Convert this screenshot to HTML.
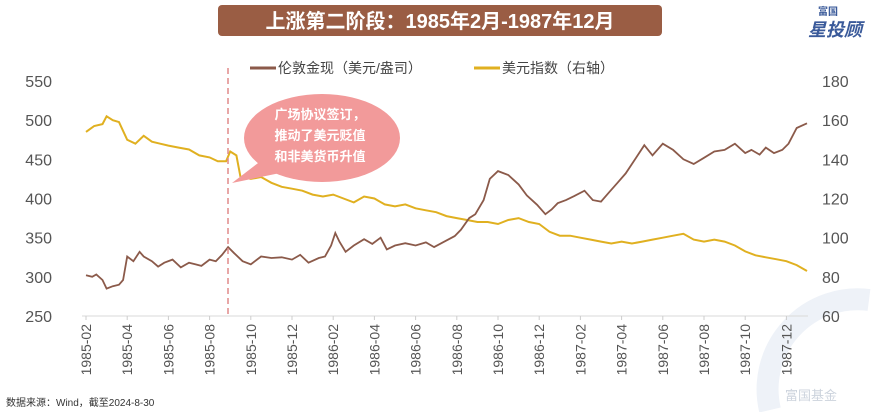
<!DOCTYPE html>
<html><head><meta charset="utf-8"><style>
html,body{margin:0;width:871px;height:412px;background:#fff;overflow:hidden;font-family:"Liberation Sans","Noto Sans CJK SC",sans-serif}
svg{display:block;overflow:hidden}
</style></head><body>
<svg id="c" width="871" height="412">
<path d="M770,410 A90,90 0 0 1 869,300" fill="none" stroke="#eef2f8" stroke-width="22"/>
<rect x="218" y="5" width="444" height="31" rx="4" fill="#9a5d44"/>
<text x="440" y="28" text-anchor="middle" fill="#fff" font-size="20" font-weight="bold">上涨第二阶段：1985年2月-1987年12月</text>
<text x="818" y="15" font-size="10" fill="#3a5a9a" font-weight="bold">富国</text>
<text x="808" y="36" font-size="18" fill="#3a5a9a" font-weight="bold" font-style="italic">星投顾</text>
<line x1="250" y1="68" x2="276" y2="68" stroke="#8b5a4a" stroke-width="3"/>
<text x="278" y="73" font-size="14" fill="#444">伦敦金现（美元/盎司）</text>
<line x1="474" y1="68" x2="500" y2="68" stroke="#e0b020" stroke-width="3"/>
<text x="502" y="73" font-size="14" fill="#444">美元指数（右轴）</text>
<g id="axes"></g>
<g id="series"></g>
<line x1="228" y1="68" x2="228" y2="318" stroke="#e08a8a" stroke-width="1.5" stroke-dasharray="6,4"/>
<g>
<path d="M262,160 L232,183 L285,172 Z" fill="#f29a9a"/>
<ellipse cx="322" cy="138" rx="78" ry="44" fill="#f29a9a"/>
<text x="320" y="119" text-anchor="middle" font-size="13" font-weight="bold" fill="#fff">广场协议签订，</text>
<text x="320" y="140" text-anchor="middle" font-size="13" font-weight="bold" fill="#fff">推动了美元贬值</text>
<text x="320" y="161" text-anchor="middle" font-size="13" font-weight="bold" fill="#fff">和非美货币升值</text>
</g>
<text x="6" y="406" font-size="10" fill="#333">数据来源：Wind，截至2024-8-30</text>
<text x="785" y="400" font-size="13" fill="#ccd3dd">富国基金</text>
</svg>
<script>
const leftTicks=[250,300,350,400,450,500,550];
const rightTicks=[60,80,100,120,140,160,180];
const xLabels=["1985-02","1985-04","1985-06","1985-08","1985-10","1985-12","1986-02","1986-04","1986-06","1986-08","1986-10","1986-12","1987-02","1987-04","1987-06","1987-08","1987-10","1987-12"];
const goldMonths=[0,0.3,0.5,0.8,1,1.3,1.6,1.8,2,2.3,2.6,2.8,3.2,3.5,3.8,4.2,4.6,5,5.3,5.6,6,6.3,6.6,6.9,7.2,7.6,8,8.5,9,9.5,10,10.4,10.8,11.3,11.6,11.9,12.1,12.3,12.6,13,13.5,13.9,14.3,14.6,15,15.5,16,16.5,16.9,17.4,17.9,18.2,18.6,18.9,19.3,19.6,20,20.5,21,21.4,21.9,22.3,22.6,22.9,23.3,23.7,24.2,24.6,25,25.4,25.8,26.2,26.6,27.1,27.5,28,28.5,29,29.5,30,30.5,31,31.5,32,32.3,32.7,33,33.4,33.8,34.1,34.5,35];
const goldValues=[302,300,303,296,285,288,290,296,326,320,332,326,320,313,318,322,312,318,316,314,322,320,328,338,330,320,316,326,324,325,322,328,318,324,326,340,356,345,332,340,348,342,350,335,340,343,340,344,338,345,352,360,375,380,398,425,435,430,418,404,392,380,386,394,398,403,410,398,396,408,420,432,448,468,455,470,462,450,444,452,460,462,470,458,462,456,465,458,462,470,490,496,480,486];
const dxyMonths=[0,0.4,0.8,1,1.3,1.6,2,2.4,2.8,3.2,3.6,4,4.5,5,5.5,6,6.4,6.8,7,7.3,7.5,8,8.5,9,9.5,10,10.5,11,11.5,12,12.5,13,13.5,14,14.5,15,15.5,16,16.5,17,17.5,18,18.5,19,19.5,20,20.5,21,21.5,22,22.5,23,23.5,24,24.5,25,25.5,26,26.5,27,27.5,28,28.5,29,29.5,30,30.5,31,31.5,32,32.5,33,33.5,34,34.5,35];
const dxyValues=[154,157,158,162,160,159,150,148,152,149,148,147,146,145,142,141,139,139,144,142,131,130,131,128,126,125,124,122,121,122,120,118,121,120,117,116,117,115,114,113,111,110,109,108,108,107,109,110,108,107,103,101,101,100,99,98,97,98,97,98,99,100,101,102,99,98,99,98,96,93,91,90,89,88,86,83];
const X0=86,XS=20.6,YT=81,YB=316,PL=82,PR=808;
const xs=m=>X0+m*XS;
const yl=v=>YB-(v-250)/300*(YB-YT);
const yr=v=>YB-(v-60)/120*(YB-YT);
const NS="http://www.w3.org/2000/svg";
const ax=document.getElementById('axes'),se=document.getElementById('series');
function mk(t,a,p,txt){const e=document.createElementNS(NS,t);for(const k in a)e.setAttribute(k,a[k]);if(txt!==undefined)e.textContent=txt;p.appendChild(e);return e;}
let b=mk('line',{x1:PL,y1:YB,x2:PR,y2:YB,stroke:'#d9d9d9'},ax);


leftTicks.forEach(v=>{const t=mk('text',{x:52,y:yl(v)+6,'text-anchor':'end','font-size':16,fill:'#555'},ax,v);

});
rightTicks.forEach(v=>{const t=mk('text',{x:822,y:yr(v)+6,'font-size':16,fill:'#555'},ax,v);

});
xLabels.forEach((l,i)=>{const x=xs(i*2);mk('line',{x1:x,y1:YB,x2:x,y2:YB+4,stroke:'#ccc'},ax);
const t=mk('text',{x:0,y:0,'font-size':14,fill:'#555','text-anchor':'end',transform:`translate(${x+5},${YB+8}) rotate(-90)`},ax,l);

});
const pd=(ms,vs,f)=>ms.map((m,i)=>(i?'L':'M')+xs(m).toFixed(1)+','+f(vs[i]).toFixed(1)).join('');
const d=mk('path',{d:pd(dxyMonths,dxyValues,yr),fill:'none',stroke:'#e0b020','stroke-width':2},se);


const g=mk('path',{d:pd(goldMonths,goldValues,yl),fill:'none',stroke:'#8b5a4a','stroke-width':1.8},se);


</script>
</body></html>
